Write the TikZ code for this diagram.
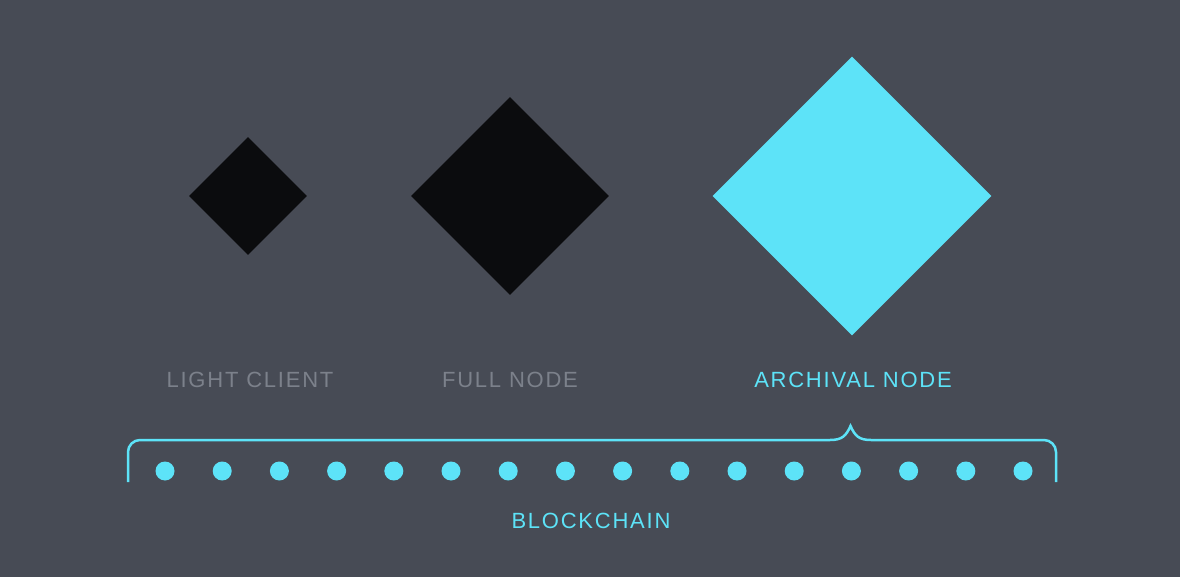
\documentclass[tikz,border=0pt]{standalone}
\usepackage{fontspec}
\setmainfont{Liberation Sans}
\newfontfamily\labelfont[LetterSpace=8]{Liberation Sans}
\usetikzlibrary{shapes.geometric}
\definecolor{bg}{HTML}{474B55}
\definecolor{cyanc}{HTML}{5DE3F8}
\definecolor{blk}{HTML}{0B0C0E}
\definecolor{graytxt}{HTML}{7C818B}
\tikzset{
  dia/.style={diamond, aspect=1, inner sep=0pt, draw=none},
  lbl/.style={font=\labelfont\fontsize{22}{24}\selectfont, inner sep=0pt, anchor=center},
  blockdot/.style={circle, fill=cyanc, inner sep=0pt, minimum size=19pt},
  bracel/.style={draw=cyanc, line width=2.5pt, line cap=butt}
}
\begin{document}
\begin{tikzpicture}[x=1pt,y=-1pt]
\fill[bg] (0,0) rectangle (1180,577);
\useasboundingbox (0,0) rectangle (1180,577);
\node[dia, fill=blk, minimum size=118pt] (light) at (248,196) {};
\node[dia, fill=blk, minimum size=198pt] (full) at (510,196) {};
\node[dia, fill=cyanc, minimum size=279pt] (archival) at (852,196) {};
\node[lbl, text=graytxt] (lightlbl) at (250,380) {LIGHT CLIENT};
\node[lbl, text=graytxt] (fulllbl) at (510,380) {FULL NODE};
\node[lbl, text=cyanc] (archlbl) at (853,380) {ARCHIVAL NODE};
\node[lbl, text=cyanc] (chainlbl) at (591,521) {BLOCKCHAIN};
\foreach \i in {0,...,15} {
  \node[blockdot] (d\i) at ({165+\i*57.2},471) {};
}
\coordinate (bl) at (128,482);
\coordinate (br) at (1056,482);
\coordinate (tip) at (850.5,426);
\draw[bracel] (bl) -- (128,452) .. controls (128,445.4) and (133.4,440) .. (140,440)
  -- (830,440) .. controls (842,440) and (846,436) .. (tip)
  .. controls (855,436) and (859,440) .. (871,440)
  -- (1044,440) .. controls (1050.6,440) and (1056,445.4) .. (1056,452) -- (br);
\end{tikzpicture}
\end{document}
